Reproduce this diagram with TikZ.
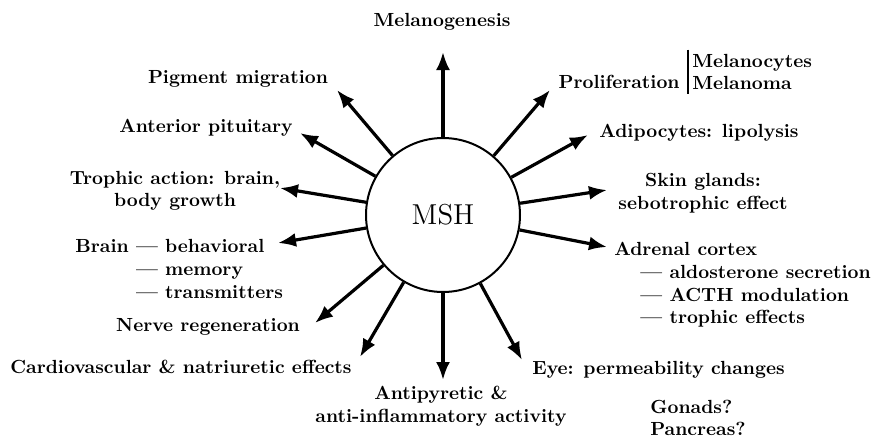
\documentclass[tikz,border=0pt]{standalone}
\usepackage{tikz}
\usetikzlibrary{arrows.meta}
\usetikzlibrary{positioning}

\tikzset{
  lbl/.style={font=\bfseries\fontsize{9.5}{11.3}\selectfont, inner sep=1pt},
  effect/.style={->, line width=1.6pt},
}

\begin{document}
\begin{tikzpicture}[x=0.5pt, y=-0.5pt, >={Latex[length=9pt,width=7pt]}]
		\useasboundingbox (0,0) rectangle (875,440);
		\node (MSH) [circle, draw, line width=1pt, minimum size=77pt, inner sep=0pt, font=\Large] at (443,215) {MSH};
		% labels round the circle
		\node (mel) [lbl] at (442,22) {Melanogenesis};
		\node (pig) [lbl] at (238,79) {Pigment migration};
		\node (ant) [lbl] at (206,128) {Anterior pituitary};
		\node (tro) [lbl, align=center] at (175,191) {Trophic action: brain,\\body growth};
		\node (bra) [lbl, anchor=west, align=left] at (73,269) {Brain --- behavioral\\\phantom{Brain }--- memory\\\phantom{Brain }--- transmitters};
		\node (ner) [lbl] at (208,327) {Nerve regeneration};
		\node (car) [lbl] at (181,367) {Cardiovascular \& natriuretic effects};
		\node (apy) [lbl, align=center] at (441,406) {Antipyretic \&\\anti-inflammatory activity};
		\node (eye) [lbl, anchor=west] at (530,370) {Eye: permeability changes};
		\node (gon) [lbl, anchor=west, align=left] at (648,418) {Gonads?\\Pancreas?};
		\node (adr) [lbl, anchor=west, align=left] at (612,285) {Adrenal cortex\\\hspace*{13pt}--- aldosterone secretion\\\hspace*{13pt}--- ACTH modulation\\\hspace*{13pt}--- trophic effects};
		\node (skn) [lbl, align=center] at (703,193) {Skin glands:\\sebotrophic effect};
		\node (adi) [lbl, anchor=west] at (597,133) {Adipocytes: lipolysis};
		\node (pro) [lbl, anchor=east] at (682,82) {Proliferation};
		\node (mct) [lbl, anchor=west, align=left, inner sep=2pt] at (688,72) {Melanocytes\\Melanoma};
		\draw[line width=1pt] (mct.north west) -- (mct.south west);
		% arrow tips
		\coordinate (tMel) at (443,52);
		\coordinate (tPig) at (337,90);
		\coordinate (tAnt) at (300,133);
		\coordinate (tTro) at (280,188);
		\coordinate (tBra) at (278,243);
		\coordinate (tNer) at (315,323);
		\coordinate (tCar) at (360,357);
		\coordinate (tApy) at (443,380);
		\coordinate (tEye) at (522,360);
		\coordinate (tAdr) at (607,247);
		\coordinate (tSkn) at (607,190);
		\coordinate (tAdi) at (588,135);
		\coordinate (tPro) at (550,90);
		\draw[effect] (MSH) -- (tMel);
		\draw[effect] (MSH) -- (tPig);
		\draw[effect] (MSH) -- (tAnt);
		\draw[effect] (MSH) -- (tTro);
		\draw[effect] (MSH) -- (tBra);
		\draw[effect] (MSH) -- (tNer);
		\draw[effect] (MSH) -- (tCar);
		\draw[effect] (MSH) -- (tApy);
		\draw[effect] (MSH) -- (tEye);
		\draw[effect] (MSH) -- (tAdr);
		\draw[effect] (MSH) -- (tSkn);
		\draw[effect] (MSH) -- (tAdi);
		\draw[effect] (MSH) -- (tPro);
	\end{tikzpicture}
\end{document}
